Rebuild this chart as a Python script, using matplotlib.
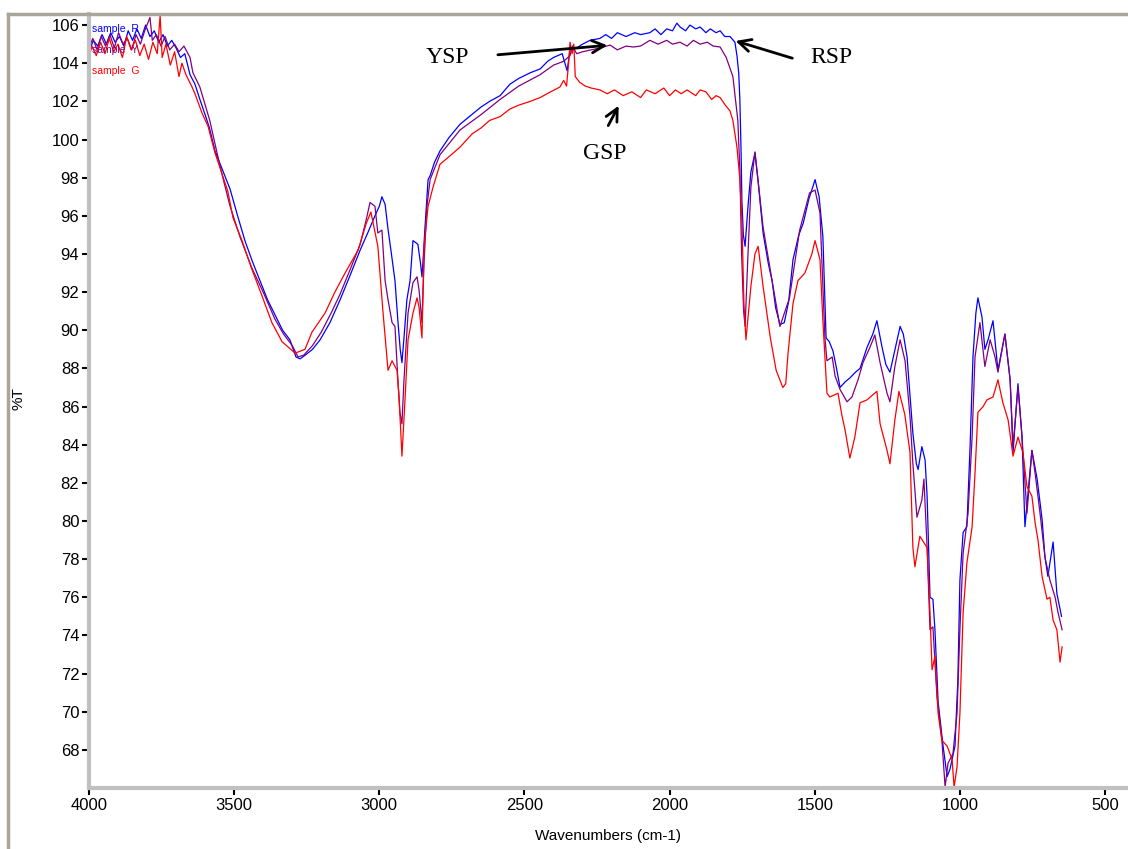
import matplotlib
matplotlib.use("Agg")
import matplotlib.pyplot as plt
from matplotlib.lines import Line2D
from matplotlib.ticker import MultipleLocator

# FTIR spectra: (wavenumber cm-1, %T)
rsp = [(4000, 104.6), (3985, 105.2), (3970, 104.9), (3955, 105.5), (3940, 105.0), (3925, 105.6),
       (3910, 105.1), (3895, 105.4), (3880, 104.9), (3865, 105.7), (3850, 105.2), (3835, 105.8),
       (3820, 105.3), (3805, 106.0), (3790, 105.4), (3775, 105.7), (3760, 105.1), (3745, 105.5),
       (3730, 104.9), (3715, 105.2), (3700, 104.8), (3685, 104.3), (3670, 104.5), (3652, 103.4),
       (3635, 102.9), (3618, 102.1), (3600, 101.3), (3585, 100.6), (3566, 99.4), (3540, 98.4),
       (3514, 97.4), (3490, 96.1), (3463, 94.7), (3437, 93.6), (3411, 92.6), (3385, 91.6),
       (3359, 90.8), (3333, 90.0), (3308, 89.5), (3287, 88.6), (3273, 88.5), (3255, 88.7),
       (3230, 89.0), (3204, 89.5), (3170, 90.4), (3135, 91.6), (3100, 92.9), (3066, 94.2),
       (3040, 95.1), (3015, 96.0), (3000, 96.5), (2991, 97.0), (2980, 96.6), (2970, 95.3),
       (2960, 94.2), (2946, 92.6), (2936, 90.5), (2928, 89.0), (2922, 88.3), (2915, 89.6),
       (2905, 91.6), (2894, 92.6), (2884, 94.7), (2875, 94.6), (2867, 94.5), (2858, 93.5),
       (2853, 92.8), (2848, 94.0), (2843, 95.3), (2832, 97.9), (2825, 98.1), (2810, 98.8),
       (2791, 99.4), (2760, 100.1), (2722, 100.8), (2690, 101.2), (2650, 101.7), (2620, 102.0),
       (2584, 102.3), (2550, 102.9), (2520, 103.2), (2480, 103.5), (2446, 103.7), (2420, 104.1),
       (2400, 104.3), (2370, 104.5), (2353, 103.6), (2343, 104.7), (2320, 104.8), (2300, 105.0),
       (2274, 105.2), (2240, 105.3), (2220, 105.5), (2200, 105.3), (2180, 105.6), (2150, 105.4),
       (2120, 105.6), (2100, 105.5), (2068, 105.6), (2050, 105.8), (2030, 105.5), (2010, 105.8),
       (1990, 105.7), (1975, 106.1), (1964, 105.9), (1945, 105.7), (1930, 106.0), (1910, 105.8),
       (1895, 105.9), (1875, 105.6), (1860, 105.8), (1840, 105.6), (1826, 105.7), (1810, 105.4),
       (1792, 105.4), (1775, 105.1), (1768, 104.4), (1762, 103.5), (1758, 102.1), (1754, 99.5),
       (1751, 96.8), (1746, 95.0), (1740, 94.4), (1730, 96.5), (1720, 98.3), (1706, 99.3),
       (1695, 97.8), (1678, 95.1), (1660, 93.5), (1647, 92.6), (1635, 91.2), (1620, 90.3),
       (1605, 90.4), (1590, 91.5), (1575, 93.7), (1555, 95.0), (1540, 95.6), (1520, 96.9),
       (1505, 97.6), (1499, 97.9), (1485, 97.0), (1472, 94.9), (1461, 89.6), (1450, 89.4),
       (1437, 88.9), (1425, 88.0), (1413, 87.0), (1395, 87.3), (1379, 87.5), (1360, 87.8),
       (1344, 88.0), (1320, 89.1), (1300, 89.8), (1286, 90.5), (1268, 89.1), (1255, 88.2),
       (1241, 87.8), (1225, 88.9), (1206, 90.2), (1195, 89.8), (1182, 88.6), (1162, 84.6),
       (1150, 83.0), (1144, 82.7), (1131, 83.9), (1120, 83.2), (1113, 81.3), (1103, 76.0),
       (1093, 75.9), (1086, 74.3), (1075, 70.5), (1058, 68.2), (1044, 66.6), (1034, 67.0),
       (1017, 68.2), (1007, 71.7), (1000, 76.9), (989, 79.4), (976, 79.7), (965, 83.9),
       (955, 88.6), (945, 90.9), (938, 91.7), (924, 90.7), (914, 89.0), (903, 89.5),
       (886, 90.5), (869, 87.9), (845, 89.8), (827, 87.4), (817, 83.6), (800, 87.2),
       (786, 84.4), (776, 79.7), (752, 83.7), (734, 82.2), (717, 80.1), (707, 78.1),
       (697, 77.1), (679, 78.9), (666, 76.2), (650, 75.0)]

ysp = [(4000, 104.8), (3987, 105.3), (3972, 104.7), (3958, 105.4), (3943, 104.9), (3928, 105.5),
       (3913, 104.8), (3898, 105.6), (3883, 105.0), (3868, 105.3), (3853, 104.7), (3838, 105.5),
       (3823, 105.0), (3808, 105.7), (3790, 106.4), (3782, 105.2), (3768, 105.5), (3752, 104.9),
       (3738, 105.4), (3722, 104.7), (3705, 105.0), (3690, 104.6), (3673, 104.9), (3652, 104.3),
       (3642, 103.5), (3618, 102.75), (3584, 101.0), (3559, 99.3), (3539, 98.0), (3514, 96.5),
       (3480, 94.9), (3440, 93.3), (3400, 92.0), (3360, 90.6), (3330, 89.8), (3300, 89.2),
       (3280, 88.6), (3260, 88.7), (3230, 89.2), (3200, 89.9), (3166, 90.9), (3135, 91.9),
       (3100, 93.2), (3066, 94.5), (3045, 95.8), (3032, 96.7), (3015, 96.5), (3005, 95.1),
       (2991, 95.25), (2980, 92.6), (2970, 91.6), (2956, 90.4), (2946, 90.2), (2936, 87.4),
       (2929, 85.7), (2922, 85.1), (2915, 87.4), (2901, 90.9), (2884, 92.5), (2870, 92.8),
       (2863, 92.1), (2853, 90.4), (2846, 93.5), (2836, 96.5), (2825, 97.9), (2791, 99.2),
       (2722, 100.5), (2650, 101.3), (2584, 102.1), (2520, 102.8), (2446, 103.4), (2400, 103.9),
       (2365, 104.1), (2343, 104.4), (2335, 104.9), (2320, 104.5), (2300, 104.6), (2270, 104.7),
       (2240, 104.8), (2205, 104.95), (2180, 104.7), (2150, 104.9), (2125, 104.85), (2100, 104.9),
       (2068, 105.2), (2040, 105.0), (2010, 105.2), (1990, 105.0), (1964, 105.1), (1940, 104.9),
       (1918, 105.2), (1895, 105.0), (1870, 105.1), (1850, 104.9), (1826, 104.85), (1805, 104.3),
       (1782, 103.3), (1765, 101.0), (1758, 98.4), (1752, 94.0), (1745, 91.0), (1740, 90.2),
       (1730, 94.0), (1720, 97.5), (1706, 99.35), (1678, 95.4), (1647, 92.6), (1620, 90.2),
       (1587, 91.7), (1552, 95.25), (1518, 97.2), (1499, 97.35), (1482, 96.15), (1465, 89.6),
       (1458, 88.4), (1440, 88.6), (1430, 87.6), (1413, 86.9), (1389, 86.25), (1372, 86.5),
       (1351, 87.4), (1334, 88.3), (1310, 89.1), (1293, 89.75), (1275, 88.3), (1251, 86.7),
       (1241, 86.25), (1224, 88.1), (1206, 89.5), (1189, 88.4), (1172, 85.5), (1162, 83.0),
       (1148, 80.2), (1131, 81.1), (1124, 82.2), (1113, 78.6), (1103, 74.3), (1093, 74.45),
       (1079, 70.8), (1062, 68.5), (1051, 66.05), (1041, 67.3), (1024, 67.8), (1010, 69.9),
       (1000, 74.3), (989, 78.3), (972, 80.4), (958, 84.4), (948, 88.6), (931, 90.4),
       (914, 88.1), (896, 89.5), (879, 88.6), (869, 87.8), (845, 89.8), (827, 87.4),
       (817, 83.9), (800, 87.0), (786, 84.4), (769, 80.4), (752, 83.7), (741, 82.5),
       (724, 80.4), (707, 78.1), (690, 76.9), (672, 76.0), (662, 75.2), (648, 74.3)]

gsp = [(4000, 104.3), (3990, 104.9), (3975, 104.4), (3960, 105.1), (3945, 104.5), (3930, 105.3),
       (3915, 104.6), (3900, 105.0), (3885, 104.3), (3870, 105.4), (3855, 104.7), (3840, 105.2),
       (3825, 104.4), (3810, 105.0), (3795, 104.2), (3780, 105.1), (3765, 104.5), (3755, 106.5),
       (3748, 104.3), (3735, 105.0), (3720, 103.9), (3705, 104.6), (3690, 103.3), (3680, 104.0),
       (3666, 103.4), (3645, 102.75), (3635, 102.4), (3611, 101.4), (3590, 100.7), (3566, 99.3),
       (3542, 98.2), (3522, 97.3), (3504, 95.9), (3473, 94.7), (3439, 93.2), (3404, 91.8),
       (3370, 90.4), (3335, 89.4), (3290, 88.8), (3256, 89.0), (3232, 89.9), (3187, 90.9),
       (3153, 92.0), (3118, 93.0), (3073, 94.2), (3045, 95.6), (3029, 96.2), (3005, 94.4),
       (2987, 90.9), (2977, 89.1), (2970, 87.9), (2956, 88.4), (2939, 87.9), (2932, 86.5),
       (2922, 83.4), (2911, 86.5), (2901, 89.5), (2884, 90.9), (2870, 91.7), (2863, 91.2),
       (2853, 89.6), (2846, 94.4), (2832, 96.5), (2815, 97.5), (2791, 98.7), (2760, 99.1),
       (2722, 99.6), (2680, 100.3), (2650, 100.6), (2620, 101.0), (2584, 101.2), (2550, 101.6),
       (2520, 101.8), (2480, 102.0), (2446, 102.2), (2410, 102.5), (2378, 102.75), (2365, 103.1),
       (2355, 102.8), (2348, 104.0), (2343, 105.1), (2336, 104.5), (2330, 105.0), (2325, 103.3),
       (2310, 103.0), (2290, 102.8), (2270, 102.7), (2240, 102.6), (2215, 102.4), (2190, 102.6),
       (2160, 102.3), (2130, 102.5), (2100, 102.2), (2080, 102.6), (2050, 102.4), (2020, 102.7),
       (2000, 102.3), (1980, 102.6), (1960, 102.4), (1940, 102.6), (1910, 102.3), (1895, 102.6),
       (1875, 102.5), (1855, 102.1), (1840, 102.3), (1826, 102.2), (1808, 101.8), (1792, 101.5),
       (1782, 101.0), (1768, 99.6), (1758, 97.9), (1751, 95.8), (1744, 91.4), (1737, 89.5),
       (1720, 92.3), (1706, 94.0), (1695, 94.4), (1678, 92.3), (1653, 89.6), (1633, 87.9),
       (1610, 87.0), (1600, 87.2), (1592, 88.8), (1575, 91.4), (1558, 92.6), (1534, 93.0),
       (1510, 94.0), (1499, 94.7), (1482, 93.7), (1472, 90.5), (1458, 86.7), (1448, 86.5),
       (1420, 86.7), (1406, 85.5), (1396, 84.8), (1379, 83.3), (1362, 84.4), (1344, 86.2),
       (1320, 86.35), (1286, 86.8), (1275, 85.1), (1251, 83.7), (1241, 83.0), (1224, 85.3),
       (1210, 86.8), (1190, 85.6), (1172, 83.6), (1162, 78.6), (1155, 77.6), (1138, 79.2),
       (1113, 78.6), (1103, 75.2), (1096, 72.2), (1086, 72.9), (1075, 69.9), (1062, 68.5),
       (1044, 68.2), (1027, 67.5), (1020, 66.05), (1010, 67.1), (1000, 69.9), (989, 75.2),
       (976, 77.8), (958, 79.7), (948, 82.5), (938, 85.7), (920, 86.0), (907, 86.35),
       (886, 86.5), (869, 87.4), (852, 86.2), (834, 85.3), (817, 83.4), (800, 84.4),
       (783, 83.6), (769, 81.8), (752, 81.3), (741, 79.9), (731, 79.0), (717, 77.1),
       (700, 75.9), (690, 76.0), (679, 74.8), (666, 74.3), (655, 72.6), (648, 73.4)]

legend_labels = ["sample  R", "sample  Y", "sample  G"]
colors = ["#0000ff", "#800080", "#ff0000"]
y_ticks = list(range(68, 107, 2))
x_ticks = [4000, 3500, 3000, 2500, 2000, 1500, 1000, 500]

fig = plt.figure(figsize=(11.28, 8.49), dpi=100)
ax = fig.add_axes([0.0789, 0.0718, 0.9211, 0.9117])

for pts, col in zip([rsp, ysp, gsp], colors):
    wn, t = zip(*pts)
    ax.plot(wn, t, color=col, lw=0.9)

ax.set_xlim(4000, 421)
ax.set_ylim(66.0, 106.58)
ax.set_xticks(x_ticks)
ax.set_yticks(y_ticks)
ax.xaxis.set_minor_locator(MultipleLocator(100))
ax.yaxis.set_minor_locator(MultipleLocator(0.5))

for s in ["top", "right"]:
    ax.spines[s].set_visible(False)
for s in ["left", "bottom"]:
    ax.spines[s].set_color("#c0c0c0")
    ax.spines[s].set_linewidth(3)
ax.tick_params(which="major", direction="out", length=5, width=1.5, color="black",
               labelsize=12, pad=2)
ax.tick_params(which="minor", direction="inout", length=3, width=1.5, color="black")
for lab in ax.get_xticklabels() + ax.get_yticklabels():
    lab.set_family("Liberation Sans")

ax.set_xlabel("Wavenumbers (cm-1)", fontsize=11, family="Liberation Sans", labelpad=12)
fig.text(0.016, 0.53, "%T", rotation=90, fontsize=11, family="Liberation Sans",
         ha="center", va="center")

# legend text in the corner, as the instrument software prints it
for i, (lab, col) in enumerate(zip(legend_labels, colors)):
    ax.text(0.003, 0.987 - i * 0.027, lab, transform=ax.transAxes, color=col,
            fontsize=7.5, family="Liberation Sans", ha="left", va="top")

serif = "Liberation Serif"
arrow = dict(arrowstyle="->", color="black", lw=2, mutation_scale=22)
ax.annotate("", xy=(2205, 104.95), xytext=(2601, 104.43), arrowprops=arrow)
ax.text(2767, 104.32, "YSP", fontsize=17, family=serif, ha="center", va="center")
ax.annotate("", xy=(1782, 105.21), xytext=(1568, 104.22), arrowprops=arrow)
ax.text(1441, 104.32, "RSP", fontsize=17, family=serif, ha="center", va="center")
ax.annotate("", xy=(2171, 101.9), xytext=(2216, 100.6), arrowprops=arrow)
ax.text(2222, 99.29, "GSP", fontsize=17, family=serif, ha="center", va="center")

# grey window frame
frame = "#aaa697"
fig.add_artist(Line2D([0.0075, 1.0], [0.984, 0.984], color=frame, lw=2.5,
                      transform=fig.transFigure))
fig.add_artist(Line2D([0.0075, 0.0075], [0.0, 0.984], color=frame, lw=2.5,
                      transform=fig.transFigure))

fig.savefig("out.png", dpi=100)
